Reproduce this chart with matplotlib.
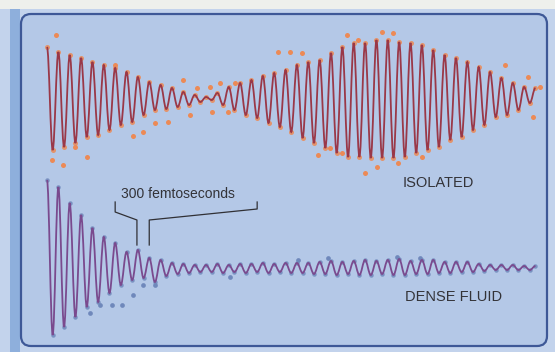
import numpy as np
import matplotlib.pyplot as plt
from matplotlib.patches import FancyBboxPatch, Rectangle, PathPatch
from matplotlib.path import Path

# time step between successive extremes (half an oscillation), femtoseconds
half_period_fs = 12.0

# ISOLATED molecule: alternating peak / trough values (a.u.)
iso_peaks = [52, 47, 44, 41, 37, 34, 31, 27, 22, 17, 14, 11, 7, 4, 2, 6, 12, 16, 19, 23,
             26, 29, 34, 37, 39, 46, 52, 56, 56, 59, 59, 57, 56, 54, 49, 44, 41, 37, 32, 27,
             21, 16, 12, 11]
iso_troughs = [-51, -48, -44, -38, -36, -31, -26, -23, -16, -11, -10, -8, -6, -3, -1, -6, -11,
               -16, -19, -24, -28, -33, -39, -44, -49, -54, -58, -58, -59, -59, -59, -58, -54,
               -51, -48, -41, -38, -31, -26, -18, -16, -11, -4]

# DENSE FLUID: alternating peak / trough values (a.u.)
fluid_peaks = [90, 83, 67, 55, 42, 33, 27, 18, 20, 12, 10, 7, 6, 5, 5, 6, 5, 6, 6, 7,
               6, 7, 7, 7, 8, 9, 8, 9, 10, 9, 10, 11, 9, 10, 10, 8, 8, 8, 6, 5,
               5, 5, 4, 4]
fluid_troughs = [-65, -57, -47, -37, -32, -23, -15, -10, -8, -12, -6, -4, -3, -2, -2, -3, -2,
                 -3, -2, -3, -2, -3, -3, -4, -4, -5, -4, -5, -5, -4, -5, -5, -4, -4, -3, -3,
                 -2, -2, -1, 0, 0, 0, 0]

# scattered measurement points off the curves (time fs, value)
iso_dots_t = [19, 11, 34, 59, 85, 144, 287, 317, 344, 366, 397, 228, 256, 302, 349, 382, 182, 203,
              488, 513, 539, 634, 657, 708, 731, 573, 598, 623, 672, 697, 742, 792, 968, 1016,
              1042, 1027]
iso_dots_v = [64, -61, -66, -48, -58, 34, 19, 11, 12, 16, 16, -24, -23, -16, -13, -13, -37, -33,
              47, 47, 46, 64, 59, 67, 66, -56, -49, -54, -74, -68, -64, -58, 34, 22,
              12, -18]
fluid_dots_t = [91, 112, 137, 158, 182, 203, 228, 387, 530, 594, 740, 788]
fluid_dots_v = [-43, -35, -35, -35, -25, -15, -15, -7, 10, 12, 13, 12]


def interleave(peaks, troughs):
    vals = np.empty(len(peaks) + len(troughs))
    vals[0::2] = peaks
    vals[1::2] = troughs
    return vals


def wave_path(t, v):
    # smooth half-waves between extremes, flat tangents at each extreme
    verts = [(t[0], v[0])]
    codes = [Path.MOVETO]
    for i in range(len(t) - 1):
        d = t[i + 1] - t[i]
        verts += [(t[i] + 0.363 * d, v[i]), (t[i + 1] - 0.363 * d, v[i + 1]), (t[i + 1], v[i + 1])]
        codes += [Path.CURVE4] * 3
    return Path(verts, codes)


iso = interleave(iso_peaks, iso_troughs)
fluid = interleave(fluid_peaks, fluid_troughs)
t = np.arange(len(iso)) * half_period_fs

W, H = 555, 352
fig = plt.figure(figsize=(W / 100, H / 100), dpi=100)
fig.patch.set_facecolor('#c3d3ec')

# frame in pixel coordinates
bg = fig.add_axes([0, 0, 1, 1])
bg.set_xlim(0, W)
bg.set_ylim(H, 0)
bg.axis('off')
bg.add_patch(Rectangle((0, 0), W, 9, color='#eef0ec', lw=0))
bg.add_patch(Rectangle((10, 9), 10, H, color='#8eafdc', lw=0))
bg.add_patch(FancyBboxPatch((21, 14), 526, 332, boxstyle='round,pad=0,rounding_size=10',
                            fc='#b4c8e7', ec='#3e5897', lw=1.6))
bg.text(403, 183, 'ISOLATED', fontsize=10.5, family='Liberation Sans', color='#333338',
        ha='left', va='center')
bg.text(405, 297, 'DENSE FLUID', fontsize=10.5, family='Liberation Sans', color='#333338',
        ha='left', va='center')

px_per_fs = 142 / 300
x0 = 47
xlim = (-x0 / px_per_fs, (W - x0) / px_per_fs)

# isolated trace
ax1 = fig.add_axes([0, 0, 1, 1])
ax1.set_xlim(*xlim)
ax1.set_ylim(99 - H, 99)
ax1.axis('off')
ax1.plot(t, iso, 'o', color='#ec8a56', ms=3.6, mec='none', alpha=0.85, zorder=2)
ax1.plot(iso_dots_t, iso_dots_v, 'o', color='#ec8a56', ms=3.6, mec='none', zorder=2)
ax1.add_patch(PathPatch(wave_path(t, iso), fc='none', ec='#9a3848', lw=1.3, zorder=3))

# dense fluid trace
ax2 = fig.add_axes([0, 0, 1, 1])
ax2.set_xlim(*xlim)
ax2.set_ylim(270 - H, 270)
ax2.axis('off')
ax2.plot(t, fluid, 'o', color='#6f88bb', ms=3.2, mec='none', alpha=0.85, zorder=2)
ax2.plot(fluid_dots_t, fluid_dots_v, 'o', color='#6f88bb', ms=3.4, mec='none', zorder=2)
ax2.add_patch(PathPatch(wave_path(t, fluid), fc='none', ec='#7a4a8e', lw=1.3, zorder=3))

# 300 femtosecond bracket
ax2.plot([144, 144, 190, 190], [68, 58, 50, 25], color='#303035', lw=0.9)
ax2.plot([216, 216, 444, 444], [25, 50, 61, 68], color='#303035', lw=0.9)
ax2.text(276, 76, '300 femtoseconds', fontsize=10, family='Liberation Sans', color='#333338',
         ha='center', va='center')

fig.savefig('out.png', dpi=100)
